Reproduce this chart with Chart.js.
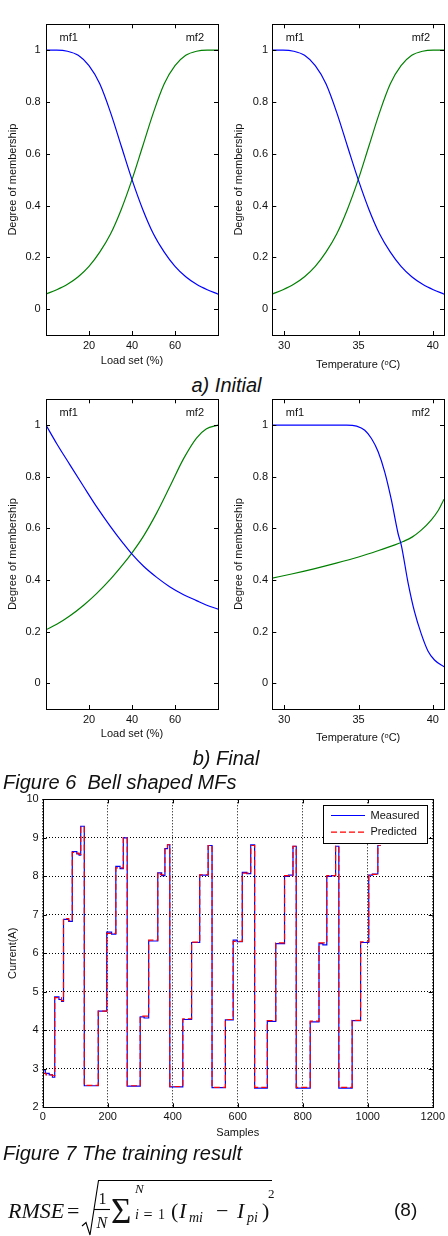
<!DOCTYPE html>
<html>
<head>
<meta charset="utf-8">
<title>Bell shaped MFs and training result</title>
<script src="https://cdn.jsdelivr.net/npm/chart.js@4.4.0/dist/chart.umd.min.js"></script>
<style>
html, body { margin: 0; padding: 0; background: #fff; }
#page { position: relative; width: 448px; height: 1236px; overflow: hidden; font-family: 'Liberation Sans', Arial, sans-serif; color: #111; }
canvas { position: absolute; }
.cap { position: absolute; font-style: italic; font-size: 20px; line-height: 20px; white-space: pre; }
.f { position: absolute; font-family: 'Liberation Serif', 'Times New Roman', serif; line-height: 1; white-space: pre; }
.it { font-style: italic; }
</style>
</head>
<body>
<div id="page">
	<canvas id="loadInit" width="224" height="370" style="left:0;top:0"></canvas>
	<canvas id="tempInit" width="224" height="374" style="left:224px;top:0"></canvas>
	<div class="cap" style="left:0;width:453px;text-align:center;top:375px">a) Initial</div>
	<canvas id="loadFinal" width="224" height="364" style="left:0;top:380px"></canvas>
	<canvas id="tempFinal" width="224" height="368" style="left:224px;top:380px"></canvas>
	<div class="cap" style="left:0;width:452px;text-align:center;top:748px">b) Final</div>
	<div class="cap" style="left:3px;top:772px">Figure 6  Bell shaped MFs</div>
	<canvas id="training" width="448" height="360" style="left:0;top:780px"></canvas>
	<div class="cap" style="left:3px;top:1143px">Figure 7 The training result</div>

	<!-- equation (8) -->
	<svg style="position:absolute;left:0;top:0" width="448" height="1236">
		<path d="M82,1226 L86,1222.5 L90,1235 L98.5,1180.5 L272,1180.5" fill="none" stroke="#000" stroke-width="1.1"/>
		<path d="M94,1209.5 L110,1209.5" stroke="#000" stroke-width="1.1"/>
	</svg>
	<span class="f it" style="left:8px;top:1200px;font-size:22px">RMSE</span>
	<span class="f" style="left:67px;top:1200px;font-size:22px">=</span>
	<span class="f" style="left:98.5px;top:1190.6px;font-size:16px">1</span>
	<span class="f it" style="left:96.5px;top:1214.6px;font-size:16px">N</span>
	<span class="f" style="left:111px;top:1194px;font-size:35px">&#931;</span>
	<span class="f it" style="left:135px;top:1182px;font-size:13px">N</span>
	<span class="f it" style="left:135px;top:1208px;font-size:14px">i</span>
	<span class="f" style="left:143.5px;top:1206.5px;font-size:16px">=</span>
	<span class="f" style="left:158px;top:1208px;font-size:14px">1</span>
	<span class="f" style="left:171px;top:1200px;font-size:22px">(</span>
	<span class="f it" style="left:179px;top:1200px;font-size:22px">I</span>
	<span class="f it" style="left:189px;top:1211.3px;font-size:14px">mi</span>
	<span class="f" style="left:216px;top:1200px;font-size:22px">&#8722;</span>
	<span class="f it" style="left:237px;top:1200px;font-size:22px">I</span>
	<span class="f it" style="left:247px;top:1211.3px;font-size:14px">pi</span>
	<span class="f" style="left:262px;top:1200px;font-size:22px">)</span>
	<span class="f" style="left:268px;top:1187px;font-size:13px">2</span>
	<span style="position:absolute;left:394px;top:1200.4px;font-size:19px;line-height:1">(8)</span>
</div>

<script>
// membership labels and ticks
var mfNames = ['mf1', 'mf2'];
var membershipTicks = [0, 0.2, 0.4, 0.6, 0.8, 1];
var loadTicks = [20, 40, 60];
var tempTicks = [30, 35, 40];

// a) Initial
var loadInitX = [0, 5, 10, 15, 20, 25, 30, 35, 40, 45, 50, 55, 60, 65, 70, 75, 80];
var loadInitMf1 = [1, 1, 0.996, 0.98, 0.94, 0.87, 0.76, 0.63, 0.5, 0.385, 0.29, 0.22, 0.165, 0.125, 0.096, 0.075, 0.058];
var loadInitMf2 = [0.058, 0.075, 0.096, 0.125, 0.165, 0.22, 0.29, 0.385, 0.5, 0.63, 0.76, 0.87, 0.94, 0.98, 0.996, 1, 1];
var tempInitX = [29.2, 29.92, 30.64, 31.37, 32.09, 32.81, 33.53, 34.25, 34.98, 35.7, 36.42, 37.14, 37.86, 38.58, 39.31, 40.03, 40.75];
var tempInitMf1 = [1, 1, 0.996, 0.98, 0.94, 0.87, 0.76, 0.63, 0.5, 0.385, 0.29, 0.22, 0.165, 0.125, 0.096, 0.075, 0.058];
var tempInitMf2 = [0.058, 0.075, 0.096, 0.125, 0.165, 0.22, 0.29, 0.385, 0.5, 0.63, 0.76, 0.87, 0.94, 0.98, 0.996, 1, 1];

// b) Final
var loadFinalX = [0, 5, 11, 17.5, 23.5, 30, 36, 40, 45.5, 51.5, 57.5, 64, 70, 74.5, 80];
var loadFinalMf1 = [1, 0.928, 0.848, 0.762, 0.684, 0.607, 0.541, 0.5, 0.452, 0.41, 0.374, 0.343, 0.32, 0.303, 0.287];
var loadFinalMf2 = [0.207, 0.228, 0.26, 0.302, 0.347, 0.403, 0.462, 0.505, 0.572, 0.66, 0.76, 0.87, 0.95, 0.985, 1];
var tempFinalX1 = [29.2, 34.2, 34.87, 35.42, 35.87, 36.32, 36.76, 37.21, 37.66, 37.88, 38.33, 38.77, 39.22, 39.67, 40.11, 40.75];
var tempFinalMf1 = [1, 1, 0.996, 0.98, 0.948, 0.897, 0.819, 0.71, 0.58, 0.534, 0.39, 0.276, 0.191, 0.125, 0.09, 0.064];
var tempFinalX2 = [29.2, 30.5, 32, 33.5, 35, 36.3, 37.4, 38, 38.6, 39.2, 39.9, 40.35, 40.75];
var tempFinalMf2 = [0.407, 0.423, 0.443, 0.465, 0.489, 0.513, 0.535, 0.549, 0.566, 0.592, 0.633, 0.668, 0.713];

// Figure 7: step levels, each value holds from its sample until the next one
var sampleTicks = [0, 200, 400, 600, 800, 1000, 1200];
var currentTicks = [2, 3, 4, 5, 6, 7, 8, 9, 10];
var measuredSamples = [0, 8, 20, 30, 37, 50, 58, 64, 80, 91, 105, 112, 117, 128,
	171, 197, 212, 225, 238, 248, 260,
	300, 312, 326, 354, 366, 376, 384, 391,
	431, 458, 483, 509, 521,
	562, 586, 598, 614, 628, 640, 652,
	691, 717, 744, 756, 770, 780,
	823, 850, 862, 874, 888, 901, 911,
	952, 978, 1003, 1015, 1031, 1040];
var measuredCurrent = [2.97, 2.88, 2.84, 2.78, 4.87, 4.8, 4.75, 6.88, 6.83, 8.64, 8.58, 8.55, 9.3, 2.56,
	4.5, 6.55, 6.5, 8.26, 8.2, 9.0, 2.55,
	4.35, 4.32, 6.32, 8.09, 8.02, 8.72, 8.82, 2.53,
	4.28, 6.28, 8.03, 8.8, 2.51,
	4.27, 6.34, 6.3, 8.1, 8.07, 8.82, 2.5,
	4.23, 6.25, 8.0, 8.03, 8.78, 2.5,
	4.22, 6.25, 6.22, 8.0, 8.02, 8.78, 2.5,
	4.25, 6.28, 8.03, 8.06, 8.8, 8.8];
var predictedSamples = [0, 10, 30, 37, 58, 64, 80, 91, 105, 112, 117, 128,
	171, 197, 225, 248, 260,
	300, 326, 354, 362, 376, 384, 391,
	431, 458, 483, 509, 521,
	562, 586, 614, 640, 652,
	691, 717, 744, 770, 780,
	823, 850, 874, 901, 911,
	952, 978, 1003, 1031, 1040];
var predictedCurrent = [2.88, 2.84, 2.82, 4.85, 4.77, 6.9, 6.85, 8.62, 8.6, 8.57, 9.28, 2.57,
	4.5, 6.52, 8.22, 9.0, 2.56,
	4.37, 6.34, 8.1, 8.04, 8.75, 8.82, 2.54,
	4.3, 6.29, 8.04, 8.8, 2.52,
	4.28, 6.31, 8.08, 8.8, 2.52,
	4.25, 6.27, 8.02, 8.78, 2.52,
	4.24, 6.27, 8.02, 8.78, 2.52,
	4.26, 6.3, 8.05, 8.8, 8.8];

var FONT = "'Liberation Sans', Arial, sans-serif";
Chart.defaults.font.family = FONT;
Chart.defaults.font.size = 11;
Chart.defaults.color = '#111';

function pts(xs, ys) {
	return xs.map(function(x, i) { return { x: x, y: ys[i] }; });
}

// matlab like frame: full box with inward ticks
var boxTicks = {
	id: 'boxTicks',
	afterDraw: function(chart) {
		var ctx = chart.ctx, a = chart.chartArea, tl = 4;
		var sx = chart.scales.x, sy = chart.scales.y;
		ctx.save();
		ctx.strokeStyle = '#000';
		ctx.lineWidth = 1;
		ctx.beginPath();
		sx.ticks.forEach(function(t) {
			var px = Math.round(sx.getPixelForValue(t.value)) + 0.5;
			ctx.moveTo(px, a.bottom); ctx.lineTo(px, a.bottom - tl);
			ctx.moveTo(px, a.top); ctx.lineTo(px, a.top + tl);
		});
		sy.ticks.forEach(function(t) {
			var py = Math.round(sy.getPixelForValue(t.value)) + 0.5;
			ctx.moveTo(a.left, py); ctx.lineTo(a.left + tl, py);
			ctx.moveTo(a.right, py); ctx.lineTo(a.right - tl, py);
		});
		ctx.stroke();
		ctx.strokeRect(Math.round(a.left) + 0.5, Math.round(a.top) + 0.5, Math.round(a.right - a.left), Math.round(a.bottom - a.top));
		ctx.restore();
	}
};

var mfLabels = {
	id: 'mfLabels',
	afterDraw: function(chart) {
		var ctx = chart.ctx, a = chart.chartArea;
		ctx.save();
		ctx.font = '11px ' + FONT;
		ctx.fillStyle = '#111';
		ctx.textBaseline = 'middle';
		ctx.textAlign = 'left';
		ctx.fillText(mfNames[0], a.left + 13.5, a.top + 14);
		ctx.textAlign = 'right';
		ctx.fillText(mfNames[1], a.right - 14, a.top + 14);
		ctx.restore();
	}
};

var boxLegend = {
	id: 'boxLegend',
	afterDraw: function(chart) {
		var ctx = chart.ctx, a = chart.chartArea;
		var w = 104, h = 38, x = Math.round(a.right - 6 - w), y = Math.round(a.top + 6);
		ctx.save();
		ctx.fillStyle = '#fff';
		ctx.fillRect(x, y, w, h);
		ctx.strokeStyle = '#000';
		ctx.lineWidth = 1;
		ctx.strokeRect(x + 0.5, y + 0.5, w, h);
		chart.data.datasets.forEach(function(ds, i) {
			var ly = y + 10.5 + i * 16.7;
			ctx.strokeStyle = ds.borderColor;
			ctx.lineWidth = 1.2;
			ctx.setLineDash(ds.borderDash || []);
			ctx.beginPath();
			ctx.moveTo(x + 8, ly);
			ctx.lineTo(x + 42, ly);
			ctx.stroke();
			ctx.setLineDash([]);
			ctx.fillStyle = '#111';
			ctx.font = '11px ' + FONT;
			ctx.textBaseline = 'middle';
			ctx.fillText(ds.label, x + 47.5, ly);
		});
		ctx.restore();
	}
};

function membershipChart(id, o) {
	return new Chart(document.getElementById(id), {
		type: 'line',
		data: {
			datasets: [
				{ label: mfNames[0], data: pts(o.x1, o.mf1), borderColor: '#0000ff' },
				{ label: mfNames[1], data: pts(o.x2, o.mf2), borderColor: '#008000' }
			]
		},
		options: {
			responsive: false,
			animation: false,
			devicePixelRatio: 1,
			layout: { padding: { top: o.top, right: o.right, left: 0, bottom: 0 } },
			elements: {
				point: { radius: 0 },
				line: { borderWidth: 1.2, cubicInterpolationMode: 'monotone', fill: false }
			},
			plugins: { legend: { display: false }, tooltip: { enabled: false } },
			scales: {
				x: {
					type: 'linear', min: o.min, max: o.max,
					grid: { display: false, drawTicks: false, tickLength: 0 }, border: { display: false },
					afterBuildTicks: function(s) { s.ticks = o.xTicks.map(function(v) { return { value: v }; }); },
					afterFit: function(s) { s.height = o.xHeight; },
					ticks: { padding: 4.4, maxRotation: 0, callback: function(v) { return String(v); } },
					title: { display: true, text: o.xTitle, padding: { top: 0, bottom: o.titleBottom } }
				},
				y: {
					type: 'linear', min: -0.1, max: 1.1,
					grid: { display: false, drawTicks: false, tickLength: 0 }, border: { display: false },
					afterBuildTicks: function(s) { s.ticks = membershipTicks.map(function(v) { return { value: v }; }); },
					afterFit: function(s) { s.width = o.yWidth; },
					ticks: { padding: o.yPad, callback: function(v) { return String(v); } },
					title: { display: true, text: 'Degree of membership', padding: { top: o.yTitleTop, bottom: 0 } }
				}
			}
		},
		plugins: [boxTicks, mfLabels]
	});
}

membershipChart('loadInit', {
	x1: loadInitX, mf1: loadInitMf1, x2: loadInitX, mf2: loadInitMf2,
	min: 0, max: 80, xTicks: loadTicks, xTitle: 'Load set (%)',
	top: 24.3, right: 6, xHeight: 35, yWidth: 46, yPad: 5.3, yTitleTop: 6.7, titleBottom: 2
});
membershipChart('tempInit', {
	x1: tempInitX, mf1: tempInitMf1, x2: tempInitX, mf2: tempInitMf2,
	min: 29.2, max: 40.75, xTicks: tempTicks, xTitle: 'Temperature (\u1D52C)',
	top: 24.3, right: 4, xHeight: 39, yWidth: 48.3, yPad: 4.3, yTitleTop: 8.4, titleBottom: 2.4
});
membershipChart('loadFinal', {
	x1: loadFinalX, mf1: loadFinalMf1, x2: loadFinalX, mf2: loadFinalMf2,
	min: 0, max: 80, xTicks: loadTicks, xTitle: 'Load set (%)',
	top: 19.3, right: 6, xHeight: 35, yWidth: 46, yPad: 5.3, yTitleTop: 6.7, titleBottom: 3.1
});
membershipChart('tempFinal', {
	x1: tempFinalX1, mf1: tempFinalMf1, x2: tempFinalX2, mf2: tempFinalMf2,
	min: 29.2, max: 40.75, xTicks: tempTicks, xTitle: 'Temperature (\u1D52C)',
	top: 19.3, right: 4, xHeight: 39, yWidth: 48.3, yPad: 4.3, yTitleTop: 8.4, titleBottom: 3.1
});

// Figure 7
new Chart(document.getElementById('training'), {
	type: 'line',
	data: {
		datasets: [
			{ label: 'Measured', data: pts(measuredSamples, measuredCurrent), borderColor: '#0000ff', stepped: true, order: 1 },
			{ label: 'Predicted', data: pts(predictedSamples, predictedCurrent), borderColor: '#ff0000', borderDash: [6, 3], stepped: true, order: 0 }
		]
	},
	options: {
		responsive: false,
		animation: false,
		devicePixelRatio: 1,
		layout: { padding: { top: 19.3, right: 14.7, left: 0, bottom: 0 } },
		elements: { point: { radius: 0 }, line: { borderWidth: 1.2, tension: 0, fill: false } },
		plugins: { legend: { display: false }, tooltip: { enabled: false } },
		scales: {
			x: {
				type: 'linear', min: 0, max: 1200,
				grid: { color: '#000', lineWidth: 1, drawTicks: false, borderDash: [1, 2] },
				border: { display: false, dash: [1, 2] },
				afterBuildTicks: function(s) { s.ticks = sampleTicks.map(function(v) { return { value: v }; }); },
				afterFit: function(s) { s.height = 32.7; },
				ticks: { padding: 3, maxRotation: 0, callback: function(v) { return String(v); } },
				title: { display: true, text: 'Samples', padding: { top: 0, bottom: 0.9 } }
			},
			y: {
				type: 'linear', min: 2, max: 10,
				grid: { color: '#000', lineWidth: 1, drawTicks: false, borderDash: [1, 2] },
				border: { display: false, dash: [1, 2] },
				afterBuildTicks: function(s) { s.ticks = currentTicks.map(function(v) { return { value: v }; }); },
				afterFit: function(s) { s.width = 42.7; },
				ticks: { padding: 4, callback: function(v) { return String(v); } },
				title: { display: true, text: 'Current(A)', padding: { top: 6.7, bottom: 0 } }
			}
		}
	},
	plugins: [boxTicks, boxLegend]
});
</script>
</body>
</html>
